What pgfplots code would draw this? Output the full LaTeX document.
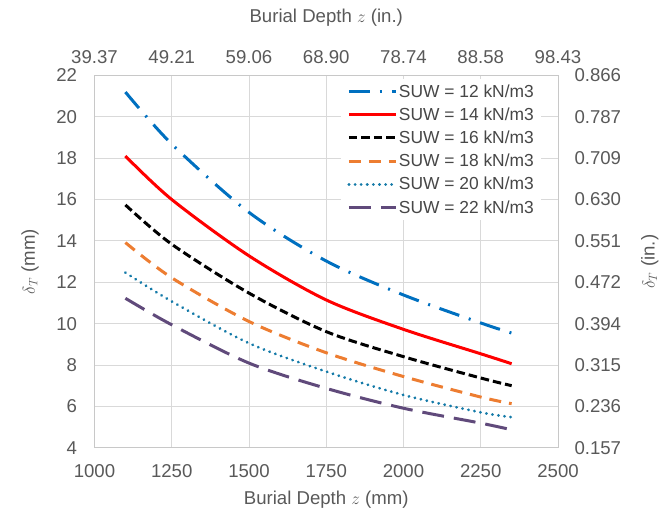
\documentclass[border=0pt]{standalone}
\usepackage{fontspec}
\setmainfont{Liberation Sans}
\usepackage{pgfplots}
\pgfplotsset{compat=1.18}

\definecolor{suwA}{RGB}{0,112,192}
\definecolor{suwB}{RGB}{255,0,0}
\definecolor{suwC}{RGB}{0,0,0}
\definecolor{suwD}{RGB}{237,125,49}
\definecolor{suwE}{RGB}{20,122,168}
\definecolor{suwF}{RGB}{96,74,123}
\definecolor{gridgray}{RGB}{217,217,217}
\definecolor{framegray}{RGB}{200,200,200}
\definecolor{labelgray}{RGB}{89,89,89}

\newcommand{\chartfont}{\fontsize{18.6}{22}\selectfont}
\newcommand{\legendfont}{\fontsize{17.4}{20}\selectfont}

\pgfplotsset{
  deflaxis/.style={
    scale only axis,
    width=463.5pt, height=372.7pt,
    at={(94.5pt,68pt)}, anchor=south west,
    xmin=1000, xmax=2500, ymin=4, ymax=22,
    xtick={1000,1250,...,2500},
    ytick={4,6,...,22},
    major tick length=0pt,
    axis line style={framegray, line width=1pt},
    tick label style={font=\chartfont, text=labelgray},
    label style={font=\chartfont, text=labelgray},
    /pgf/number format/assume math mode=true,
    /pgf/number format/1000 sep={},
  },
  curve/.style={line width=3pt, smooth, tension=0.5},
}

\begin{document}
\begin{tikzpicture}[font=\chartfont]
% primary axes: millimetres (bottom, left)
\begin{axis}[
  deflaxis,
  axis x line*=bottom, axis y line*=left,
  grid=major,
  major grid style={gridgray, line width=1pt},
  xticklabel style={yshift=-13pt},
  yticklabel style={xshift=-14pt},
  xlabel={Burial Depth $z$ (mm)},
  ylabel={$\delta_T$ (mm)},
  xlabel style={at={(axis description cs:0.5,-0.1395)}, anchor=center},
  ylabel style={at={(axis description cs:-0.139,0.5)}, anchor=center},
  legend style={at={(axis description cs:1,1)}, anchor=north east,
    xshift=-16.5pt, yshift=-4pt, draw=none, fill=white,
    font=\legendfont, text=labelgray!80!black,
    inner xsep=6pt, inner ysep=3pt, row sep=5.1pt,
    nodes={inner xsep=1.5pt},
    /tikz/every even column/.style={column sep=0pt}},
  legend cell align=left,
  legend image code/.code={\draw[#1] (0pt,0pt) -- (47pt,0pt);},
]
\addplot[curve, suwA, dash pattern=on 21pt off 10pt on 2pt off 10pt] coordinates {
  (1100,21.19) (1250,18.68) (1500,15.38) (1750,13.03) (2000,11.39) (2250,10.04) (2350,9.55)};
\addlegendentry{SUW = 12 kN/m3}
\addplot[curve, suwB] coordinates {
  (1100,18.10) (1250,16.00) (1500,13.28) (1750,11.15) (2000,9.73) (2250,8.55) (2350,8.07)};
\addlegendentry{SUW = 14 kN/m3}
\addplot[curve, suwC, dash pattern=on 8.5pt off 4pt] coordinates {
  (1100,15.74) (1250,13.84) (1500,11.48) (1750,9.62) (2000,8.41) (2250,7.38) (2350,7.01)};
\addlegendentry{SUW = 16 kN/m3}
\addplot[curve, suwD, dash pattern=on 12pt off 8pt] coordinates {
  (1100,13.92) (1250,12.22) (1500,10.11) (1750,8.60) (2000,7.45) (2250,6.46) (2350,6.14)};
\addlegendentry{SUW = 18 kN/m3}
\addplot[curve, suwE, line cap=round, dash pattern=on 0.1pt off 6pt] coordinates {
  (1100,12.47) (1250,11.08) (1500,9.06) (1750,7.69) (2000,6.56) (2250,5.72) (2350,5.49)};
\addlegendentry{SUW = 20 kN/m3}
\addplot[curve, suwF, dash pattern=on 22pt off 10pt] coordinates {
  (1100,11.23) (1250,9.95) (1500,8.10) (1750,6.88) (2000,5.92) (2250,5.20) (2350,4.88)};
\addlegendentry{SUW = 22 kN/m3}
\end{axis}

% secondary axes: inches (top, right)
\begin{axis}[
  deflaxis,
  axis x line*=top, axis y line*=right,
  xticklabels={39.37,49.21,59.06,68.90,78.74,88.58,98.43},
  yticklabels={0.157,0.236,0.315,0.394,0.472,0.551,0.630,0.709,0.787,0.866},
  xticklabel style={yshift=8.5pt},
  yticklabel style={xshift=13pt},
  xlabel={Burial Depth $z$ (in.)},
  ylabel={$\delta_T$ (in.)},
  xlabel style={at={(axis description cs:0.5,1.154)}, anchor=center},
  ylabel style={at={(axis description cs:1.198,0.5)}, anchor=center, rotate=0},
]
\end{axis}
\pgfresetboundingbox
\path (0pt,0pt) rectangle (672pt,516pt);
\end{tikzpicture}
\end{document}
